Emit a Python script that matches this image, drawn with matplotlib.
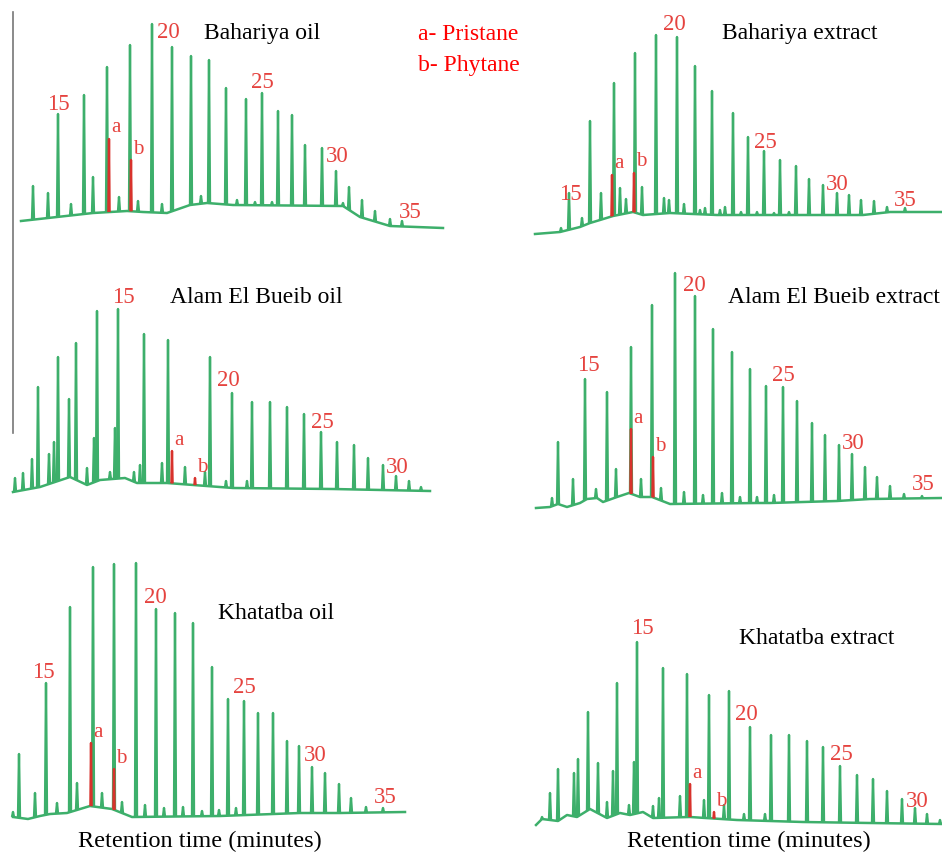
"""
GC chromatograms (n-alkane distribution) of oils and source rock extracts.
"""
import numpy as np
import matplotlib
matplotlib.use('Agg')
import matplotlib.pyplot as plt
from matplotlib.collections import LineCollection

plt.rcParams['font.family'] = ['Liberation Serif', 'DejaVu Serif']

GREEN = '#3daf6b'
RED_LINE = '#d8322c'
RED_TXT = '#e5433f'

# ---- Bahariya oil ----
bo_base_x = [21, 57, 93, 127, 143, 167, 190, 207, 233, 343, 360, 390, 443]
bo_base_y = [221, 217, 213, 211, 212, 213, 205, 203, 205, 206, 217, 226, 228]
bo_peak_x = [33, 48, 58, 71, 84, 93, 107, 119, 130, 138, 152, 162, 172, 191, 201, 209, 226, 237,
             246, 255, 262, 272, 278, 292, 305, 322, 336, 343, 349, 362, 375, 390, 402]
bo_peak_y = [186, 193, 114, 204, 95, 177, 67, 197, 45, 201, 24, 204, 47, 56, 196, 60, 88, 200,
             99, 202, 93, 202, 111, 115, 145, 148, 171, 203, 187, 200, 211, 219, 221]
bo_ab_x = [109, 131]
bo_ab_y = [139, 160]
bo_lab = ['15', '20', '25', '30', '35']
bo_lab_x = [58, 168, 262, 337, 410]
bo_lab_y = [104, 33, 82, 157, 212]

# ---- Bahariya extract ----
be_base_x = [535, 560, 580, 590, 600, 613, 633, 643, 670, 717, 803, 863, 890, 942]
be_base_y = [234, 232, 227, 223, 220, 216, 212, 215, 213, 215, 215, 215, 212, 212]
be_peak_x = [561, 569, 582, 590, 601, 614, 620, 626, 635, 642, 656, 664, 669, 677, 684, 695, 700,
             705, 712, 720, 725, 733, 741, 748, 757, 764, 774, 780, 789, 796, 809, 823, 837, 849,
             861, 874, 887, 905]
be_peak_y = [228, 193, 218, 121, 193, 83, 188, 199, 53, 187, 35, 198, 200, 37, 204, 66, 210,
             208, 91, 210, 207, 113, 212, 137, 212, 151, 213, 160, 212, 166, 179, 185, 193, 195,
             200, 201, 207, 208]
be_ab_x = [612, 634]
be_ab_y = [175, 173]
be_lab = ['15', '20', '25', '30', '35']
be_lab_x = [570, 674, 765, 837, 905]
be_lab_y = [194, 25, 143, 185, 200]

# ---- Alam El Bueib oil ----
ao_base_x = [13, 40, 70, 87, 100, 125, 137, 167, 233, 333, 430]
ao_base_y = [492, 487, 477, 485, 480, 478, 483, 483, 488, 489, 491]
ao_peak_x = [15, 23, 32, 38, 49, 54, 58, 69, 76, 87, 94, 97, 110, 115, 118, 134, 140, 144, 162,
             168, 185, 205, 210, 226, 232, 247, 252, 270, 287, 304, 321, 337, 354, 368, 383, 396,
             409, 421]
ao_peak_y = [478, 473, 459, 387, 454, 442, 357, 399, 343, 468, 438, 311, 472, 428, 309, 472,
             465, 334, 463, 340, 467, 472, 357, 481, 393, 481, 402, 402, 407, 414, 432, 442, 445,
             458, 465, 476, 481, 487]
ao_ab_x = [172, 195]
ao_ab_y = [451, 478]
ao_lab = ['15', '20', '25', '30']
ao_lab_x = [123, 228, 322, 397]
ao_lab_y = [297, 380, 422, 467]

# ---- Alam El Bueib extract ----
ae_base_x = [536, 550, 558, 567, 580, 587, 597, 603, 617, 629, 640, 652, 670, 757, 770, 803, 837,
             870, 942]
ae_base_y = [508, 507, 504, 507, 503, 499, 498, 502, 497, 493, 497, 497, 504, 503, 503, 502, 501,
             499, 498]
ae_peak_x = [552, 558, 573, 585, 596, 607, 616, 631, 641, 652, 661, 675, 684, 695, 703, 713, 722,
             732, 740, 750, 757, 766, 774, 783, 797, 812, 825, 839, 852, 865, 877, 890, 904, 922]
ae_peak_y = [498, 442, 479, 379, 489, 392, 469, 347, 479, 305, 488, 273, 492, 296, 495, 329, 493,
             352, 497, 369, 497, 386, 495, 387, 401, 423, 435, 445, 454, 467, 477, 486, 494, 496]
ae_ab_x = [631, 653]
ae_ab_y = [429, 457]
ae_lab = ['15', '20', '25', '30', '35']
ae_lab_x = [588, 694, 783, 853, 923]
ae_lab_y = [365, 285, 375, 443, 484]

# ---- Khatatba oil ----
ko_base_x = [13, 28, 40, 50, 67, 90, 112, 132, 220, 300, 340, 405]
ko_base_y = [817, 819, 816, 814, 813, 806, 809, 817, 816, 813, 813, 812]
ko_peak_x = [13, 19, 35, 46, 57, 70, 77, 93, 102, 114, 122, 136, 145, 156, 164, 175, 183, 193,
             202, 212, 219, 228, 236, 244, 258, 273, 287, 299, 312, 325, 339, 351, 366, 383]
ko_peak_y = [812, 754, 793, 683, 803, 607, 783, 567, 793, 564, 802, 563, 805, 609, 808, 613, 807,
             623, 811, 667, 810, 699, 808, 701, 713, 713, 741, 746, 767, 773, 784, 798, 807, 808]
ko_ab_x = [91, 114]
ko_ab_y = [743, 769]
ko_lab = ['15', '20', '25', '30', '35']
ko_lab_x = [43, 155, 244, 315, 385]
ko_lab_y = [672, 597, 687, 755, 797]

# ---- Khatatba extract ----
ke_base_x = [536, 542, 558, 567, 577, 590, 607, 620, 630, 643, 653, 690, 737, 803, 870, 942]
ke_base_y = [825, 819, 821, 815, 817, 809, 818, 813, 815, 812, 818, 817, 820, 822, 823, 824]
ke_peak_x = [542, 550, 558, 574, 578, 588, 598, 607, 613, 617, 629, 634, 637, 653, 659, 663, 680,
             687, 704, 709, 724, 729, 744, 750, 765, 771, 789, 807, 823, 840, 857, 873, 887, 902,
             915, 927, 940]
ke_peak_y = [817, 793, 769, 773, 759, 712, 763, 802, 771, 683, 805, 762, 642, 806, 798, 668, 796,
             674, 800, 695, 805, 691, 814, 727, 814, 735, 735, 741, 747, 766, 775, 779, 791, 799,
             808, 814, 820]
ke_ab_x = [690, 714]
ke_ab_y = [784, 812]
ke_lab = ['15', '20', '25', '30']
ke_lab_x = [642, 746, 841, 917]
ke_lab_y = [628, 714, 754, 801]

panels = [
    ('Bahariya oil', 262, 33, bo_base_x, bo_base_y, bo_peak_x, bo_peak_y, bo_ab_x, bo_ab_y,
     bo_lab, bo_lab_x, bo_lab_y),
    ('Bahariya extract', 800, 33, be_base_x, be_base_y, be_peak_x, be_peak_y, be_ab_x, be_ab_y,
     be_lab, be_lab_x, be_lab_y),
    ('Alam El Bueib oil', 256, 297, ao_base_x, ao_base_y, ao_peak_x, ao_peak_y, ao_ab_x, ao_ab_y,
     ao_lab, ao_lab_x, ao_lab_y),
    ('Alam El Bueib extract', 834, 297, ae_base_x, ae_base_y, ae_peak_x, ae_peak_y, ae_ab_x,
     ae_ab_y, ae_lab, ae_lab_x, ae_lab_y),
    ('Khatatba oil', 276, 613, ko_base_x, ko_base_y, ko_peak_x, ko_peak_y, ko_ab_x, ko_ab_y,
     ko_lab, ko_lab_x, ko_lab_y),
    ('Khatatba extract', 817, 638, ke_base_x, ke_base_y, ke_peak_x, ke_peak_y, ke_ab_x, ke_ab_y,
     ke_lab, ke_lab_x, ke_lab_y),
]


def spikes(px, py, bx, by, half=1.0):
    segs = []
    for x, top in zip(px, py):
        b0 = np.interp(x - half, bx, by)
        b1 = np.interp(x + half, bx, by)
        segs.append([(x - half, b0), (x, top), (x + half, b1)])
    return segs


fig = plt.figure(figsize=(9.42, 8.55), dpi=100)
ax = fig.add_axes([0, 0, 1, 1])
ax.set_xlim(0, 942)
ax.set_ylim(855, 0)
ax.axis('off')

# thin gray frame line on the left of the top-left panels
ax.plot([13, 13], [12, 433], color='#777777', lw=1.2)

for (title, tx, ty, bx, by, px, py, abx, aby, lab, lx, ly) in panels:
    ax.plot(bx, by, color=GREEN, lw=1.8, solid_joinstyle='round')
    ax.add_collection(LineCollection(spikes(px, py, bx, by), colors=GREEN, linewidths=1.7))
    ax.add_collection(LineCollection(spikes(abx, aby, bx, by, 0.6), colors=RED_LINE,
                                     linewidths=1.7))
    for s, x, y in zip(['a', 'b'], abx, aby):
        ax.text(x + 2, y - 11, s, color=RED_TXT, fontsize=15, ha='left', va='center')
    for s, x, y in zip(lab, lx, ly):
        ax.text(x, y, s, color=RED_TXT, fontsize=16.5, ha='center', va='center')
    ax.text(tx, ty, title, color='black', fontsize=17, ha='center', va='center')

ax.text(418, 35, 'a- Pristane', color='#ff0000', fontsize=17, ha='left', va='center')
ax.text(418, 65, 'b- Phytane', color='#ff0000', fontsize=17, ha='left', va='center')

ax.text(200, 841, 'Retention time (minutes)', fontsize=17.5, ha='center', va='center')
ax.text(749, 841, 'Retention time (minutes)', fontsize=17.5, ha='center', va='center')

fig.savefig('out.png', dpi=100)
